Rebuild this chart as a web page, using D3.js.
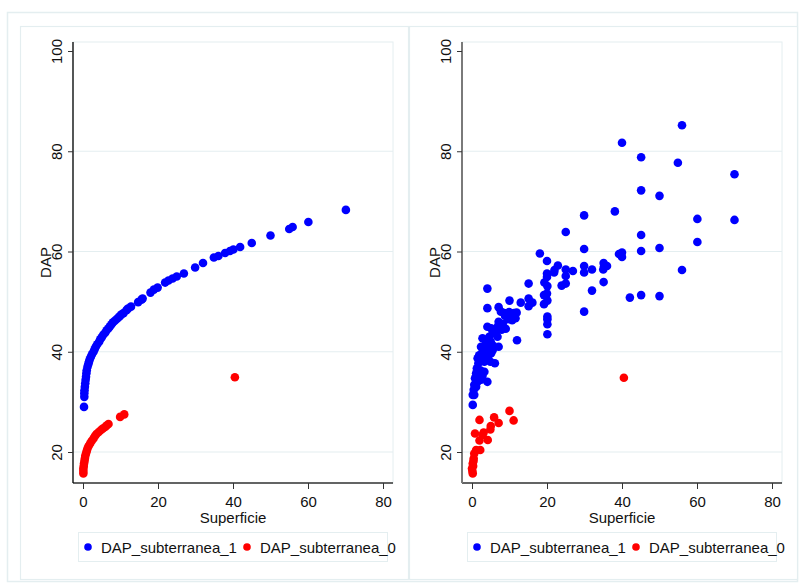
<!DOCTYPE html>
<html>
<head>
<meta charset="utf-8">
<script src="https://cdn.jsdelivr.net/npm/d3@7"></script>
<style>
  html, body { margin: 0; padding: 0; background: #ffffff; }
  svg { display: block; font-family: "Liberation Sans", Arial, sans-serif; }
</style>
</head>
<body>
<svg id="chart" width="799" height="585"></svg>
<script>
// Tick values shared by both panels
const xTicks = [0, 20, 40, 60, 80];
const yTicks = [20, 40, 60, 80, 100];
const gridTicks = [20, 40, 60, 80];

const xLabel = "Superficie";
const yLabel = "DAP";
const seriesNames = ["DAP_subterranea_1", "DAP_subterranea_0"];
const seriesColors = ["#0000ff", "#ff0000"];

// Left panel: fitted DAP by Superficie
const leftSup1 = [0.27, 0.35, 0.35, 0.4, 0.5, 0.6, 0.7, 0.8, 0.9, 1.0, 1.2, 1.4, 1.6, 1.8, 2.1, 2.4, 2.8, 3.1, 3.4, 3.8,
  4.3, 4.6, 5.0, 5.4, 5.9, 6.3, 6.8, 7.2, 7.6, 8.0, 8.5, 9.1, 9.7, 10.2, 10.8, 11.6, 12.0, 12.8, 14.7, 15.6,
  15.9, 18.0, 18.9, 19.9, 21.9, 22.8, 23.9, 25.0, 26.9, 29.9, 32.0, 34.9, 36.1, 37.9, 39.2, 40.1, 41.9, 45.0, 50.0, 55.0,
  55.9, 60.1, 70.1];
const leftDap1 = [29.0, 31.0, 31.7, 32.3, 33.0, 33.7, 34.4, 35.0, 35.7, 36.3, 37.0, 37.5, 38.0, 38.5, 39.0, 39.5, 40.0, 40.5, 41.0, 41.5,
  42.0, 42.5, 42.9, 43.4, 43.8, 44.3, 44.7, 45.1, 45.5, 45.9, 46.2, 46.6, 47.0, 47.4, 47.7, 48.3, 48.6, 49.0, 49.9, 50.4,
  50.6, 51.8, 52.4, 52.8, 53.8, 54.2, 54.6, 55.0, 55.6, 56.8, 57.7, 58.8, 59.1, 59.7, 60.1, 60.4, 60.9, 61.7, 63.2, 64.5,
  64.9, 65.9, 68.3];
const leftSup0 = [0.1, 0.1, 0.1, 0.2, 0.27, 0.4, 0.5, 0.6, 0.8, 1.0, 1.2, 1.5, 1.9, 2.3, 2.8, 3.2, 3.6, 4.2, 4.8, 5.3,
  5.9, 6.3, 6.8, 9.9, 11.0, 40.5];
const leftDap0 = [15.7, 16.2, 16.7, 17.2, 17.7, 18.2, 18.7, 19.2, 19.7, 20.2, 20.7, 21.2, 21.7, 22.2, 22.7, 23.2, 23.6, 24.0, 24.4, 24.7,
  25.0, 25.3, 25.6, 27.0, 27.5, 34.9];

// Right panel: observed DAP by Superficie
const rightSup1 = [56.0, 40.0, 45.1, 54.9, 70.0, 45.1, 50.0, 38.1, 29.9, 60.1, 70.0, 25.0, 45.1, 60.1, 29.9, 50.0, 45.1, 40.0, 39.2, 40.0,
  18.1, 20.0, 22.9, 22.0, 21.9, 20.0, 20.0, 25.0, 25.0, 25.0, 26.9, 29.9, 29.9, 32.0, 35.1, 35.2, 36.0, 35.0, 56.0, 35.1,
  32.0, 15.1, 19.3, 20.1, 23.9, 4.1, 20.0, 19.2, 45.1, 50.0, 42.1, 10.0, 13.0, 15.1, 15.1, 16.1, 19.2, 20.1, 29.9, 4.1,
  7.1, 20.1, 20.1, 20.1, 20.1, 12.0, 7.1, 6.1, 4.1, 7.7, 8.6, 9.9, 11.2, 11.9, 8.8, 9.6, 10.7, 11.6, 7.1, 8.2,
  9.0, 7.9, 6.8, 6.4, 5.5, 4.6, 6.8, 4.1, 5.1, 2.8, 3.7, 5.0, 4.2, 5.5, 2.4, 3.3, 4.3, 5.5, 5.1, 4.0,
  2.8, 1.9, 1.5, 2.4, 3.7, 4.3, 4.9, 3.3, 1.7, 1.3, 2.2, 3.3, 2.8, 1.7, 1.1, 0.8, 1.5, 0.6, 1.1, 2.4,
  0.45, 0.2, 0.2, 0.6];
const rightDap1 = [85.2, 81.7, 78.8, 77.7, 75.4, 72.2, 71.1, 68.0, 67.2, 66.5, 66.3, 63.9, 63.3, 61.9, 60.5, 60.7, 60.1, 59.8, 59.5, 58.9,
  59.6, 58.1, 57.2, 56.3, 55.8, 55.6, 54.9, 56.4, 55.1, 53.6, 56.1, 57.1, 55.8, 56.4, 57.7, 57.0, 57.1, 56.4, 56.3, 53.9,
  52.2, 53.6, 53.8, 53.1, 53.2, 52.6, 51.6, 51.3, 51.3, 51.1, 50.8, 50.2, 49.8, 50.6, 49.1, 49.8, 49.5, 50.2, 48.0, 48.7,
  48.9, 47.0, 46.5, 45.5, 43.5, 42.3, 41.0, 37.7, 34.0, 48.0, 47.7, 47.9, 47.7, 47.8, 47.2, 46.5, 46.3, 46.7, 46.0, 45.6,
  44.6, 44.4, 45.0, 44.0, 43.7, 43.0, 43.0, 45.0, 44.7, 42.7, 42.0, 42.0, 41.3, 41.3, 41.0, 40.7, 40.3, 40.3, 39.7, 39.5,
  40.0, 39.3, 38.7, 38.3, 38.5, 39.0, 38.0, 38.0, 37.7, 36.7, 36.3, 36.0, 35.2, 35.0, 35.7, 34.7, 34.0, 33.4, 33.0, 34.4,
  32.4, 31.4, 29.4, 31.4];
const rightSup0 = [40.5, 10.0, 11.1, 5.9, 7.1, 2.0, 5.0, 4.9, 3.1, 2.8, 0.8, 4.2, 2.0, 2.2, 1.1, 0.6, 0.45, 0.2, 0.0, 0.2,
  0.3, 0.4, 0.1];
const rightDap0 = [34.8, 28.2, 26.3, 26.9, 25.8, 26.4, 25.2, 24.5, 23.9, 23.4, 23.7, 22.4, 22.3, 20.4, 20.4, 19.7, 18.7, 17.7, 16.7, 15.7,
  17.2, 18.2, 16.2];

const panels = [
  { left: 20, yAxisColor: "#000000", yAxisWidth: 1.3,
    series: [[leftSup1, leftDap1], [leftSup0, leftDap0]] },
  { left: 409, yAxisColor: "#7a7a7a", yAxisWidth: 2,
    series: [[rightSup1, rightDap1], [rightSup0, rightDap0]] }
];

const svg = d3.select("#chart");
const frameColor = "#e4eef0";

// Outer frame
svg.append("rect").attr("x", 7.5).attr("y", 12.5).attr("width", 790).attr("height", 569)
  .attr("fill", "#ffffff").attr("stroke", frameColor).attr("stroke-width", 1.5);

panels.forEach(p => {
  const g = svg.append("g").attr("transform", `translate(${p.left},0)`);

  // Panel box
  g.append("rect").attr("x", 0.5).attr("y", 26.5).attr("width", 388).attr("height", 553)
    .attr("fill", "#ffffff").attr("stroke", frameColor).attr("stroke-width", 1.2);

  // Plot region geometry
  const px0 = 53, px1 = 373, py0 = 42, py1 = 483;
  const x = d3.scaleLinear().domain([0, 80]).range([px0 + 10, px1 - 10]);
  const y = d3.scaleLinear().domain([20, 100]).range([py1 - 31, py0 + 9]);

  g.append("rect").attr("x", px0).attr("y", py0).attr("width", px1 - px0).attr("height", py1 - py0)
    .attr("fill", "none").attr("stroke", frameColor).attr("stroke-width", 1);

  // Horizontal gridlines
  g.selectAll(".grid").data(gridTicks).enter().append("line")
    .attr("x1", px0).attr("x2", px1)
    .attr("y1", d => y(d)).attr("y2", d => y(d))
    .attr("stroke", frameColor).attr("stroke-width", 1.2);

  // Axes
  const xAxis = g.append("g").attr("transform", `translate(0,${py1})`)
    .call(d3.axisBottom(x).tickValues(xTicks).tickSize(6).tickPadding(7).tickSizeOuter(0));
  xAxis.select(".domain").attr("d", `M${px0},0H${px1}`).attr("stroke", "#333").attr("stroke-width", 1.3);
  xAxis.selectAll(".tick line").attr("stroke", "#333");
  xAxis.selectAll(".tick text").attr("font-size", 15).attr("fill", "#111")
    .attr("font-family", "Liberation Sans, Arial, sans-serif");

  const yAxis = g.append("g").attr("transform", `translate(${px0},0)`)
    .call(d3.axisLeft(y).tickValues(yTicks).tickSize(5).tickSizeOuter(0));
  yAxis.select(".domain").attr("d", `M0,${py0}V${py1}`).attr("stroke", p.yAxisColor).attr("stroke-width", p.yAxisWidth);
  yAxis.selectAll(".tick line").attr("stroke", "#333");
  yAxis.selectAll(".tick text")
    .attr("font-size", 15).attr("fill", "#111")
    .attr("font-family", "Liberation Sans, Arial, sans-serif")
    .attr("x", null).attr("dy", null)
    .attr("text-anchor", "middle")
    .attr("transform", "translate(-11,0) rotate(-90)");

  // Axis titles
  g.append("text").attr("x", (px0 + px1) / 2).attr("y", 523)
    .attr("text-anchor", "middle").attr("font-size", 15).attr("fill", "#111").text(xLabel);
  g.append("text").attr("transform", `translate(31,${(py0 + py1) / 2}) rotate(-90)`)
    .attr("text-anchor", "middle").attr("font-size", 15).attr("fill", "#111").text(yLabel);

  // Points
  p.series.forEach((s, i) => {
    const pts = s[0].map((v, k) => [v, s[1][k]]);
    g.append("g").selectAll("circle").data(pts).enter().append("circle")
      .attr("cx", d => x(d[0])).attr("cy", d => y(d[1])).attr("r", 4.3)
      .attr("fill", seriesColors[i]);
  });

  // Legend
  const lg = g.append("g");
  lg.append("rect").attr("x", 58.5).attr("y", 532.5).attr("width", 309).attr("height", 29)
    .attr("fill", "#ffffff").attr("stroke", frameColor).attr("stroke-width", 1);
  const itemX = [68, 227];
  seriesNames.forEach((name, i) => {
    lg.append("circle").attr("cx", itemX[i]).attr("cy", 547).attr("r", 3.8).attr("fill", seriesColors[i]);
    lg.append("text").attr("x", itemX[i] + 13).attr("y", 553)
      .attr("font-size", 15).attr("fill", "#111").text(name);
  });
});
</script>
</body>
</html>
